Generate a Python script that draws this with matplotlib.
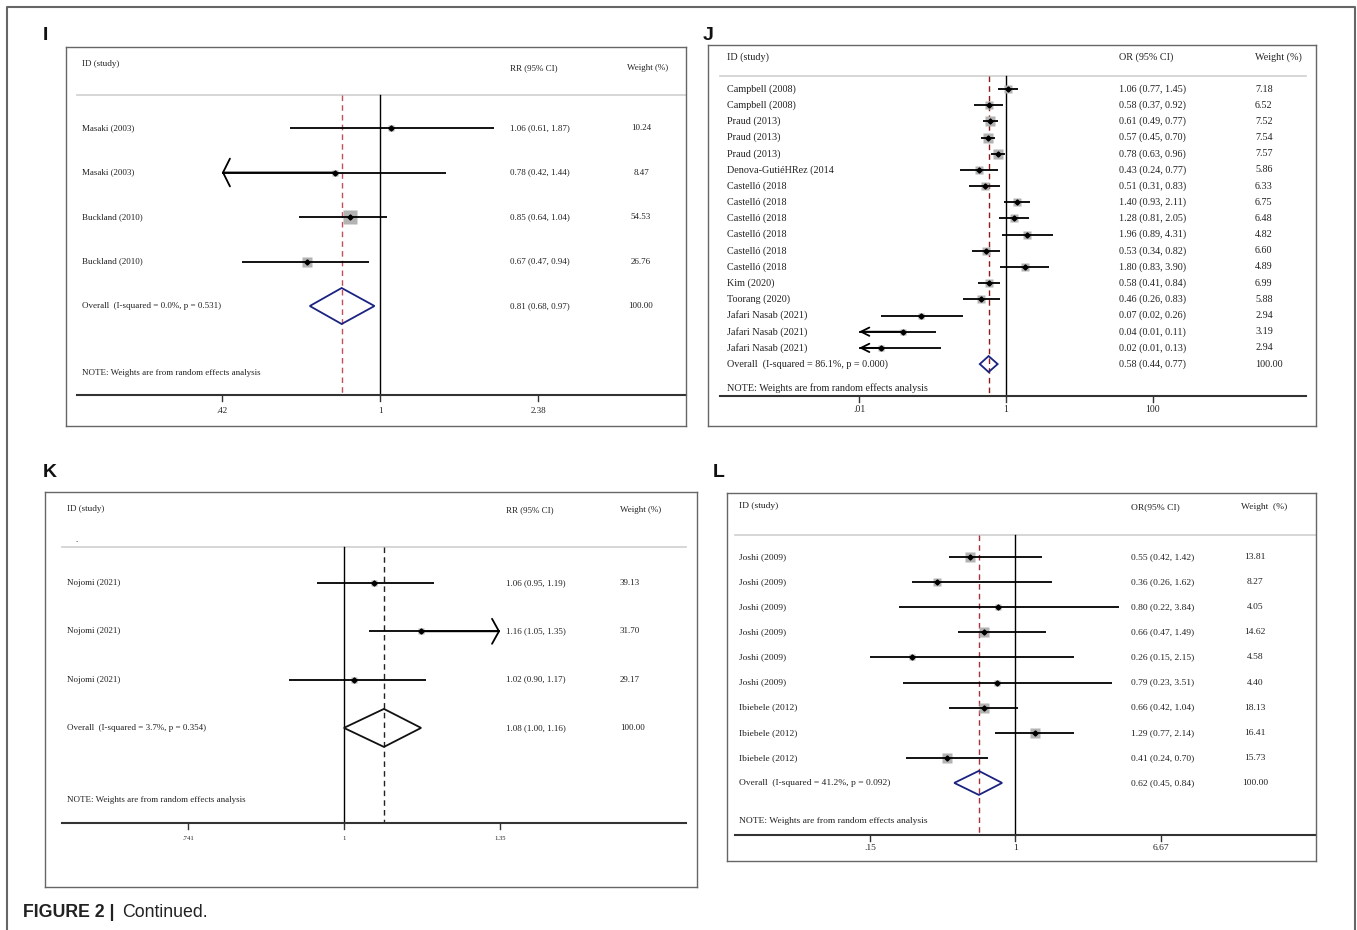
import numpy as np
import matplotlib.pyplot as plt
from matplotlib.patches import Polygon
from matplotlib.transforms import blended_transform_factory

W, H = 1357, 930

# ---- Panel I ----
i_study = ['Masaki (2003)', 'Masaki (2003)', 'Buckland (2010)', 'Buckland (2010)']
i_est = [1.06, 0.78, 0.85, 0.67]
i_lo = [0.61, 0.42, 0.64, 0.47]
i_hi = [1.87, 1.44, 1.04, 0.94]
i_weight = [10.24, 8.47, 54.53, 26.76]
i_clipped = ['', 'lo', '', '']   # CI runs past the axis -> arrow
i_overall = [0.81, 0.68, 0.97]
i_overall_label = 'Overall  (I-squared = 0.0%, p = 0.531)'
i_ticks = [0.42, 1, 2.38]
i_tick_labels = ['.42', '1', '2.38']

# ---- Panel J ----
j_study = ['Campbell (2008)', 'Campbell (2008)', 'Praud (2013)', 'Praud (2013)', 'Praud (2013)',
           'Denova-GutiéHRez (2014', 'Castelló (2018', 'Castelló (2018', 'Castelló (2018',
           'Castelló (2018', 'Castelló (2018', 'Castelló (2018', 'Kim (2020)', 'Toorang (2020)',
           'Jafari Nasab (2021)', 'Jafari Nasab (2021)', 'Jafari Nasab (2021)']
j_est = [1.06, 0.58, 0.61, 0.57, 0.78, 0.43, 0.51, 1.40, 1.28, 1.96, 0.53, 1.80, 0.58, 0.46, 0.07, 0.04, 0.02]
j_lo = [0.77, 0.37, 0.49, 0.45, 0.63, 0.24, 0.31, 0.93, 0.81, 0.89, 0.34, 0.83, 0.41, 0.26, 0.02, 0.01, 0.01]
j_hi = [1.45, 0.92, 0.77, 0.70, 0.96, 0.77, 0.83, 2.11, 2.05, 4.31, 0.82, 3.90, 0.84, 0.83, 0.26, 0.11, 0.13]
j_weight = [7.18, 6.52, 7.52, 7.54, 7.57, 5.86, 6.33, 6.75, 6.48, 4.82, 6.60, 4.89, 6.99, 5.88, 2.94, 3.19, 2.94]
j_clipped = [''] * 15 + ['lo', 'lo']
j_overall = [0.58, 0.44, 0.77]
j_overall_label = 'Overall  (I-squared = 86.1%, p = 0.000)'
j_ticks = [0.01, 1, 100]
j_tick_labels = ['.01', '1', '100']

# ---- Panel K ----
k_study = ['Nojomi (2021)', 'Nojomi (2021)', 'Nojomi (2021)']
k_est = [1.06, 1.16, 1.02]
k_lo = [0.95, 1.05, 0.90]
k_hi = [1.19, 1.35, 1.17]
k_weight = [39.13, 31.70, 29.17]
k_clipped = ['', 'hi', '']
k_overall = [1.08, 1.00, 1.16]
k_overall_label = 'Overall  (I-squared = 3.7%, p = 0.354)'
k_ticks = [0.741, 1, 1.35]
k_tick_labels = ['.741', '1', '1.35']

# ---- Panel L ----
l_study = ['Joshi (2009)'] * 6 + ['Ibiebele (2012)'] * 3
l_est = [0.55, 0.36, 0.80, 0.66, 0.26, 0.79, 0.66, 1.29, 0.41]
l_lo = [0.42, 0.26, 0.22, 0.47, 0.15, 0.23, 0.42, 0.77, 0.24]
l_hi = [1.42, 1.62, 3.84, 1.49, 2.15, 3.51, 1.04, 2.14, 0.70]
l_weight = [13.81, 8.27, 4.05, 14.62, 4.58, 4.40, 18.13, 16.41, 15.73]
l_clipped = [''] * 9
l_overall = [0.62, 0.45, 0.84]
l_overall_label = 'Overall  (I-squared = 41.2%, p = 0.092)'
l_ticks = [0.15, 1, 6.67]
l_tick_labels = ['.15', '1', '6.67']

SERIF = 'Liberation Serif'
SANS = 'Liberation Sans'
TXT = '#222222'

fig = plt.figure(figsize=(W / 100, H / 100), dpi=100)


def forest(study, est, lo, hi, weight, clipped, overall, overall_label, ticks, tick_labels, lay):
    left, top, right, bottom = lay['box']
    ax = fig.add_axes([left / W, 1 - bottom / H, (right - left) / W, (bottom - top) / H])
    ax.set_xscale('log')
    # place the log axis so the ticks land where they are in the original
    t0, t2 = ticks[0], ticks[-1]
    p0, p2 = lay['tick_px'][0], lay['tick_px'][-1]
    scale = (p2 - p0) / (np.log(t2) - np.log(t0))
    ax.set_xlim(np.exp(np.log(t0) - (p0 - left) / scale), np.exp(np.log(t0) + (right - p0) / scale))
    ax.set_ylim(bottom, top)
    ax.set_xticks([])
    ax.set_yticks([])
    ax.minorticks_off()
    for s in ax.spines.values():
        s.set_color('#666666')
        s.set_linewidth(1.0)
    tr = blended_transform_factory(ax.transAxes, ax.transData)

    def fx(px):
        return (px - left) / (right - left)

    def txt(px, y, s, ha='left'):
        ax.text(fx(px), y, s, transform=tr, fontsize=lay['fs'], family=SERIF, color=TXT,
                va='center', ha=ha)

    n = len(study)
    rows = [lay['row0'] + lay['step'] * i for i in range(n + 1)]
    w_ha = lay['w_ha']

    # header
    txt(lay['id_x'], lay['id_y'], 'ID (study)')
    txt(lay['val_x'], lay['head_y'], lay['est_head'])
    txt(lay['wh_x'], lay['head_y'], lay['w_head'], ha=w_ha)
    if lay.get('dot'):
        txt(lay['dot'][0], lay['dot'][1], '.')
    ax.plot([fx(lay['line_x0']), fx(lay['line_x1'])], [lay['head_line']] * 2, transform=tr,
            color='#cfcfcf', lw=1.2, clip_on=False)

    # reference lines
    ax.plot([1, 1], [lay['head_line'], lay['axis_y']], color='k', lw=1.0)
    ax.plot([overall[0]] * 2, [lay['head_line'], lay['axis_y']], color=lay['dash_color'],
            lw=1.0, ls=(0, (4, 3)))

    hl, hw = lay['arrow']
    astyle = f'->,head_length={hl},head_width={hw}'
    for i in range(n):
        y = rows[i]
        a = max(lo[i], t0)
        b = min(hi[i], t2)
        side = lay['sq'] * np.sqrt(weight[i]) * 0.72
        ax.plot([est[i]], [y], marker='s', ms=side, color='#b3b3b3', mec='none', zorder=2)
        ax.plot([a, b], [y, y], color='k', lw=1.3, zorder=3, solid_capstyle='butt')
        ax.plot([est[i]], [y], marker='D', ms=2.6, color='k', zorder=4)
        if clipped[i] == 'lo':
            ax.annotate('', xy=(a, y), xytext=(est[i], y),
                        arrowprops=dict(arrowstyle=astyle, color='k', lw=1.3, shrinkA=0, shrinkB=0))
        if clipped[i] == 'hi':
            ax.annotate('', xy=(b, y), xytext=(est[i], y),
                        arrowprops=dict(arrowstyle=astyle, color='k', lw=1.3, shrinkA=0, shrinkB=0))
        txt(lay['id_x'], y, study[i])
        txt(lay['val_x'], y, f'{est[i]:.2f} ({lo[i]:.2f}, {hi[i]:.2f})')
        txt(lay['w_x'], y, f'{weight[i]:.2f}', ha=w_ha)

    # pooled estimate
    y = rows[n]
    h = lay['dia_h']
    ax.add_patch(Polygon([(overall[1], y), (overall[0], y - h), (overall[2], y), (overall[0], y + h)],
                         closed=True, fill=False, ec=lay['dia_color'], lw=1.3, zorder=5))
    txt(lay['id_x'], y, overall_label)
    txt(lay['val_x'], y, f'{overall[0]:.2f} ({overall[1]:.2f}, {overall[2]:.2f})')
    txt(lay['w_x'], y, '100.00', ha=w_ha)
    txt(lay['id_x'], lay['note_y'], 'NOTE: Weights are from random effects analysis')

    # bottom axis
    ax.plot([fx(lay['line_x0']), fx(lay['line_x1'])], [lay['axis_y']] * 2, transform=tr,
            color='#333333', lw=1.5, clip_on=False)
    for t, lab in zip(ticks, tick_labels):
        ax.plot([t, t], [lay['axis_y'], lay['axis_y'] + 6], color='#333333', lw=1.0)
        ax.text(t, lay['tick_y'], lab, fontsize=lay['tfs'], family=SERIF, color=TXT,
                ha='center', va='center')
    return ax


forest(i_study, i_est, i_lo, i_hi, i_weight, i_clipped, i_overall, i_overall_label, i_ticks,
       i_tick_labels,
       dict(box=(66, 47, 686, 426), tick_px=(222, 538), row0=128, step=44.5,
            id_x=82, id_y=64, head_y=68, val_x=510, w_x=641, wh_x=648, w_ha='center',
            est_head='RR (95% CI)', w_head='Weight (%)', head_line=95, line_x0=77, line_x1=686,
            axis_y=395, tick_y=411, note_y=373, fs=6.5, tfs=6.5, sq=1.9, dia_h=18,
            dash_color='#c2505a', dia_color='#1a2380', arrow=(0.5, 1.0)))

forest(j_study, j_est, j_lo, j_hi, j_weight, j_clipped, j_overall, j_overall_label, j_ticks,
       j_tick_labels,
       dict(box=(708, 45, 1316, 426), tick_px=(859, 1153), row0=89, step=16.18,
            id_x=727, id_y=57, head_y=57, val_x=1119, w_x=1255, wh_x=1255, w_ha='left',
            est_head='OR (95% CI)', w_head='Weight (%)', head_line=76, line_x0=720, line_x1=1306,
            axis_y=396, tick_y=409, note_y=388, fs=7.3, tfs=7.0, sq=3.3, dia_h=8,
            dash_color='#8b1a1a', dia_color='#1a2380', arrow=(0.6, 0.3)))

forest(k_study, k_est, k_lo, k_hi, k_weight, k_clipped, k_overall, k_overall_label, k_ticks,
       k_tick_labels,
       dict(box=(45, 492, 697, 887), tick_px=(188, 500), row0=583, step=48.3,
            id_x=67, id_y=509, head_y=510, val_x=506, w_x=620, wh_x=620, w_ha='left',
            est_head='RR (95% CI)', w_head='Weight (%)', head_line=547, line_x0=62, line_x1=686,
            axis_y=823, tick_y=838, note_y=800, fs=6.5, tfs=4.8, sq=0.96, dia_h=19,
            dash_color='#222222', dia_color='#111111', arrow=(0.5, 0.9), dot=(75, 540)))

forest(l_study, l_est, l_lo, l_hi, l_weight, l_clipped, l_overall, l_overall_label, l_ticks,
       l_tick_labels,
       dict(box=(727, 493, 1316, 861), tick_px=(870, 1161), row0=557, step=25.1,
            id_x=739, id_y=506, head_y=507, val_x=1131, w_x=1255, wh_x=1264, w_ha='center',
            est_head='OR(95% CI)', w_head='Weight  (%)', head_line=535, line_x0=735, line_x1=1316,
            axis_y=835, tick_y=848, note_y=821, fs=6.8, tfs=6.8, sq=2.5, dia_h=12,
            dash_color='#a8323c', dia_color='#1a2380', arrow=(0.5, 0.9)))

# panel letters
for lab, x, y in [('I', 45, 35), ('J', 708, 35), ('K', 50, 472), ('L', 719, 472)]:
    fig.text(x / W, 1 - y / H, lab, fontsize=14, family=SANS, weight='bold', color='#111111',
             ha='center', va='center')

# outer frame (open at the bottom)
fig.add_artist(plt.Line2D([7 / W, 7 / W, 1355 / W, 1355 / W], [0, 1 - 7 / H, 1 - 7 / H, 0],
                          color='#666666', lw=1.5))

fig.text(23 / W, 1 - 912 / H, 'FIGURE 2 |', fontsize=12.8, family=SANS, weight='bold',
         color='#222222', va='center')
fig.text(122 / W, 1 - 912 / H, 'Continued.', fontsize=12.8, family=SANS, color='#222222',
         va='center')

fig.savefig('out.png', dpi=100)
